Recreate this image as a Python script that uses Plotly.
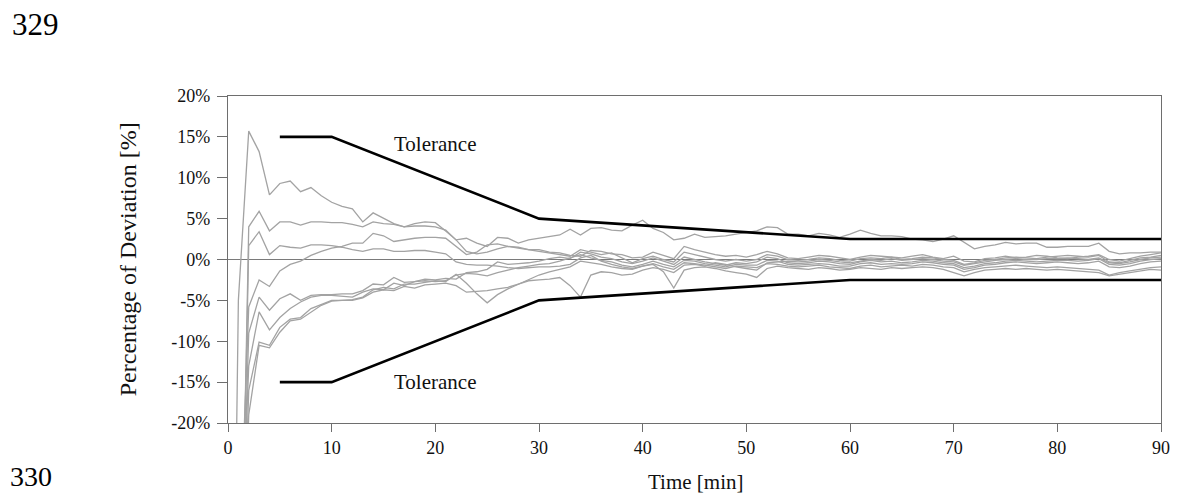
import plotly.graph_objects as go

time_min = list(range(0, 91))

run_a = [-100, -5, 15.7, 13.2, 7.9, 9.3, 9.6, 8.3, 8.8, 7.8, 7.0,
         6.5, 6.2, 4.6, 5.7, 5.0, 4.4, 4.0, 4.4, 4.6, 4.5,
         3.5, 2.4, 2.6, 2.0, 1.6, 2.7, 2.6, 2.0, 2.4, 2.6,
         2.8, 3.0, 3.7, 3.0, 3.8, 3.9, 3.6, 3.5, 4.2, 4.8,
         3.8, 3.3, 2.4, 2.6, 3.1, 2.7, 2.8, 2.9, 3.1, 3.3,
         3.5, 4.0, 3.9, 3.1, 3.1, 2.9, 3.2, 3.0, 2.7, 3.1,
         3.6, 3.2, 2.9, 2.9, 2.8, 2.5, 2.4, 2.2, 2.5, 2.9,
         2.1, 1.3, 1.6, 1.8, 2.1, 1.9, 2.0, 2.0, 1.5, 1.5,
         1.6, 1.6, 1.6, 2.0, 1.0, 0.7, 0.8, 0.8, 0.9, 0.9]

run_b = [-100, -60, 4.0, 5.9, 3.5, 4.6, 4.6, 4.2, 4.6, 4.6, 4.5,
         4.5, 4.3, 4.0, 4.6, 4.4, 4.3, 4.0, 4.1, 4.1, 4.0,
         3.6, 2.4, 1.0, 0.7, 0.9, 1.3, 1.6, 1.5, 1.2, 1.2,
         0.9, 0.8, 0.5, 0.4, 1.1, 1.0, 0.7, 0.6, 0.2, 0.3,
         0.9, 0.5, 0.1, 1.6, 1.2, 0.9, 0.6, 0.4, 0.5, 0.3,
         0.6, 1.0, 0.7, 0.2, 0.1, 0.3, 0.5, 0.4, 0.2, 0.0,
         0.3, 0.5, 0.4, 0.3, 0.2, 0.4, 0.6, 0.3, 0.1, 0.4,
         -0.2, -0.3, 0.1, 0.2, 0.4, 0.2, 0.3, 0.5, 0.4, 0.2,
         0.1, 0.3, 0.4, 0.6, 0.0, -0.2, 0.1, 0.4, 0.6, 0.8]

run_c = [-100, -60, 1.7, 3.4, 0.6, 1.7, 1.5, 1.4, 1.8, 1.8, 1.7,
         1.5, 1.2, 1.0, 1.3, 1.3, 1.0, 1.0, 1.1, 1.1, 0.9,
         0.7, -0.3, -0.6, -0.7, -0.7, -0.8, -1.0, -1.1, -1.0, -0.9,
         -0.9, -0.8, -0.6, 0.2, 0.5, -0.2, -0.6, -0.9, -1.1, -0.8,
         -0.5, -0.9, -1.2, -0.4, -0.5, -0.7, -0.9, -1.1, -0.8, -0.9,
         -1.0, -0.5, -0.6, -0.8, -0.9, -0.8, -0.7, -0.9, -1.0, -1.1,
         -0.8, -0.7, -0.9, -0.8, -0.7, -0.8, -0.6, -0.7, -0.9, -1.0,
         -1.5, -1.2, -1.0, -0.9, -0.8, -0.7, -0.8, -0.9, -1.0, -0.9,
         -1.0, -1.1, -1.2, -1.3, -1.9, -1.6, -1.4, -1.2, -1.0, -0.9]

run_d = [-100, -40, -5.8, -2.5, -3.3, -1.4, -0.6, -0.2, 0.5, 1.0, 1.4,
         1.6, 2.0, 2.0, 3.2, 2.9, 2.2, 2.4, 2.6, 2.7, 2.7,
         2.6, 1.6, 0.6, 0.9, 1.8, 1.9, 1.6, 1.4, 1.2, 1.0,
         0.8, 0.6, 0.4, 1.2, 0.9, 0.6, 0.8, 0.2, -0.4, 0.1,
         0.4, 0.0, -0.3, 0.9, 0.6, 0.3, 0.0, -0.2, 0.0, -0.2,
         0.0, 0.6, 0.4, 0.0, -0.1, 0.0, 0.2, 0.1, -0.1, -0.2,
         0.1, 0.2, 0.1, 0.3, 0.0, 0.1, 0.3, 0.2, 0.0, -0.1,
         -0.6, -0.4, -0.1, 0.0, 0.2, 0.3, 0.2, 0.1, 0.3, 0.4,
         0.5, 0.4, 0.3, 0.5, -0.3, -0.4, -0.1, 0.2, 0.3, 0.5]

run_f = [-100, -50, -9.0, -4.6, -6.2, -4.8, -4.2, -5.0, -4.4, -4.3, -4.3,
         -4.2, -4.2, -3.8, -3.0, -3.1, -2.2, -2.8, -2.7, -2.4, -2.5,
         -2.3, -2.4, -1.6, -1.5, -1.2, -0.3, -0.6, -0.5, -0.4, -0.2,
         0.1, 0.3, 0.1, 0.9, 0.7, 0.3, 0.1, -0.3, -0.5, -0.2,
         0.2, -0.2, -0.6, 0.3, 0.0, -0.3, -0.5, -0.7, -0.4, -0.5,
         -0.3, 0.3, 0.1, -0.4, -0.5, -0.4, -0.2, -0.3, -0.5, -0.6,
         -0.3, -0.1, -0.3, -0.2, -0.4, -0.3, -0.1, -0.2, -0.4, -0.5,
         -1.0, -0.8, -0.5, -0.4, -0.2, -0.1, -0.2, -0.3, -0.2, -0.1,
         -0.1, -0.2, -0.1, 0.1, -0.6, -0.7, -0.5, -0.2, 0.0, 0.1]

run_g = [-100, -45, -13.0, -6.4, -8.6, -7.1, -6.0, -5.2, -4.6, -4.4, -4.4,
         -4.5, -4.6, -4.0, -3.6, -3.7, -2.9, -3.2, -2.7, -2.6, -2.7,
         -2.6, -1.9, -1.7, -1.8, -2.0, -1.6, -1.3, -1.0, -0.8, -0.6,
         -0.5, -0.2, 0.2, 0.6, 0.2, -0.1, -0.3, -0.7, -0.9, -0.6,
         -0.2, -0.6, -0.9, -0.1, -0.2, -0.5, -0.7, -0.9, -0.6, -0.7,
         -0.7, -0.1, -0.2, -0.6, -0.7, -0.6, -0.5, -0.6, -0.8, -0.8,
         -0.5, -0.4, -0.6, -0.5, -0.6, -0.5, -0.3, -0.4, -0.6, -0.7,
         -1.2, -1.0, -0.7, -0.6, -0.4, -0.3, -0.4, -0.5, -0.4, -0.3,
         -0.4, -0.5, -0.4, -0.2, -0.9, -1.0, -0.8, -0.5, -0.3, -0.2]

run_h = [-100, -55, -16.0, -10.1, -10.5, -8.3, -7.3, -7.1, -6.0, -5.5, -5.0,
         -5.0, -4.9, -4.6, -3.7, -3.4, -3.6, -3.0, -3.0, -2.8, -2.6,
         -2.7, -1.8, -2.9, -4.2, -5.3, -4.3, -3.6, -3.0, -2.5, -1.9,
         -1.5, -1.2, -0.9, -0.2, -0.4, -0.6, -0.9, -1.1, -1.2, -0.8,
         -0.6, -1.5, -3.5, -1.3, -1.0, -0.9, -1.1, -1.4, -1.6, -1.8,
         -2.2, -1.1, -0.8, -1.0, -1.1, -1.2, -1.0, -1.1, -1.3, -1.2,
         -1.0, -1.1, -1.2, -1.0, -1.1, -1.0, -0.9, -1.0, -1.2, -1.6,
         -2.0, -1.6, -1.3, -1.2, -1.1, -1.2, -1.1, -1.2, -1.3, -1.2,
         -1.3, -1.4, -1.5, -1.6, -2.0, -1.8, -1.6, -1.4, -1.2, -1.3]

run_i = [-100, -60, -19.0, -10.5, -10.8, -8.9, -7.5, -7.3, -6.4, -5.6, -5.1,
         -5.0, -5.0, -4.7, -4.0, -3.7, -3.8, -3.3, -3.5, -3.1, -3.0,
         -2.9, -3.2, -4.0, -3.9, -3.8, -3.6, -3.4, -3.0, -2.6, -2.5,
         -2.4, -2.2, -3.2, -4.6, -1.9, -1.5, -1.6, -1.9, -1.8, -1.3,
         -1.0, -1.2, -1.6, -0.7, -0.6, -0.8, -0.4, -0.6, -0.9, -1.1,
         -1.3, -0.4, -0.3, -0.2, -0.3, -0.2, 0.0, -0.1, -0.3, -0.4,
         -0.2, 0.0, -0.1, 0.1, -0.1, 0.0, 0.1, 0.0, -0.2, -0.3,
         -0.7, -0.5, -0.3, -0.1, 0.0, 0.1, 0.0, 0.0, 0.1, 0.1,
         0.2, 0.1, 0.0, 0.2, -0.4, -0.5, -0.3, 0.0, 0.2, 0.3]

runs = [run_a, run_b, run_c, run_d, run_f, run_g, run_h, run_i]

tol_time = [5, 10, 30, 60, 90]
tol_upper = [15, 15, 5, 2.5, 2.5]
tol_lower = [-15, -15, -5, -2.5, -2.5]

y_ticks = [-20, -15, -10, -5, 0, 5, 10, 15, 20]
y_tick_text = ["-20%", "-15%", "-10%", "-5%", "0%", "5%", "10%", "15%", "20%"]
x_ticks = [0, 10, 20, 30, 40, 50, 60, 70, 80, 90]

FONT = "Liberation Serif, Times New Roman, serif"
AXIS_COLOR = "#6e6e6e"
TEXT = "#111111"

fig = go.Figure()
for r in runs:
    fig.add_trace(go.Scatter(x=time_min, y=r, mode="lines",
                             line=dict(color="#a3a3a3", width=1.3),
                             showlegend=False, hoverinfo="skip"))
for tol in (tol_upper, tol_lower):
    fig.add_trace(go.Scatter(x=tol_time, y=tol, mode="lines",
                             line=dict(color="#000000", width=2.6),
                             showlegend=False, hoverinfo="skip"))

fig.update_layout(
    width=1182, height=496, autosize=False,
    margin=dict(l=228, r=14, t=96, b=73),
    paper_bgcolor="white", plot_bgcolor="white",
    font=dict(family=FONT, color=TEXT),
    xaxis=dict(range=[0, 90], tickvals=x_ticks, ticks="outside", ticklen=8,
               tickcolor=AXIS_COLOR, showline=True, linecolor=AXIS_COLOR,
               linewidth=1.2, mirror=True, showgrid=False, zeroline=False,
               tickfont=dict(family=FONT, size=18, color=TEXT)),
    yaxis=dict(range=[-20, 20], tickvals=y_ticks, ticktext=y_tick_text,
               ticks="outside", ticklen=10, tickcolor=AXIS_COLOR,
               ticklabelstandoff=3,
               showline=True, linecolor=AXIS_COLOR, linewidth=1.2,
               mirror=True, showgrid=False, zeroline=True,
               zerolinecolor="#7a7a7a", zerolinewidth=1.2,
               tickfont=dict(family=FONT, size=18, color=TEXT)),
    annotations=[
        dict(text="Tolerance", x=15.85, y=14.16, xref="x", yref="y",
             xanchor="left", yanchor="middle", showarrow=False,
             font=dict(family=FONT, size=21, color=TEXT)),
        dict(text="Tolerance", x=15.85, y=-15.0, xref="x", yref="y",
             xanchor="left", yanchor="middle", showarrow=False,
             font=dict(family=FONT, size=21, color=TEXT)),
        dict(text="Percentage of Deviation [%]", x=(127 - 228) / 940, y=0.5,
             xref="paper", yref="paper", textangle=-90, xanchor="center",
             yanchor="middle", showarrow=False,
             font=dict(family=FONT, size=24, color=TEXT)),
        dict(text="Time [min]", x=(699 - 228) / 940, y=(423 - 482) / 327,
             xref="paper", yref="paper", xanchor="center", yanchor="middle",
             showarrow=False, font=dict(family=FONT, size=21, color=TEXT)),
        dict(text="329", x=(8 - 228) / 940, y=(423 - 24) / 327,
             xref="paper", yref="paper", xanchor="left", yanchor="middle",
             showarrow=False, font=dict(family=FONT, size=31, color="#000000")),
        dict(text="330", x=(6 - 228) / 940, y=(423 - 477) / 327,
             xref="paper", yref="paper", xanchor="left", yanchor="middle",
             showarrow=False, font=dict(family=FONT, size=28, color="#000000")),
    ],
)

fig.write_html("out.html")
